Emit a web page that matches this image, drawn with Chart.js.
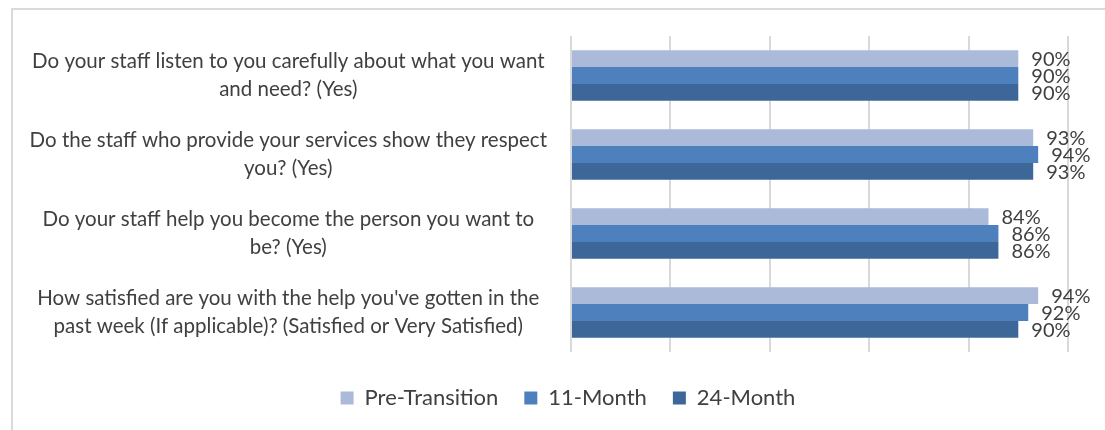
<!DOCTYPE html>
<html>
<head>
<meta charset="utf-8">
<script src="https://cdn.jsdelivr.net/npm/chart.js@4.4.1/dist/chart.umd.min.js"></script>
<style>
  html, body { margin: 0; padding: 0; background: #fff; }
  #wrap { position: relative; width: 1105px; height: 430px; }
  #frame {
    position: absolute; left: 11px; top: 8px; right: -5px; bottom: -5px;
    border-top: 2px solid #dadada; border-left: 2px solid #dadada;
  }
  canvas { position: absolute; left: 0; top: 0; }
</style>
</head>
<body>
<div id="wrap">
  <div id="frame"></div>
  <canvas id="chart" width="1105" height="430"></canvas>
</div>
<script>
// survey questions, one per row
const questions = [
  ["Do your staff listen to you carefully about what you want", "and need? (Yes)"],
  ["Do the staff who provide your services show they respect", "you? (Yes)"],
  ["Do your staff help you become the person you want to", "be? (Yes)"],
  ["How satisfied are you with the help you've gotten in the", "past week (If applicable)? (Satisfied or Very Satisfied)"],
];
const seriesNames = ["Pre-Transition", "11-Month", "24-Month"];
const preTransition = [90, 93, 84, 94];
const month11 = [90, 94, 86, 92];
const month24 = [90, 93, 86, 90];
const colors = ["#aabad8", "#4e80bd", "#3d6799"];

const textColor = "#404040";
const fontFamily = "Lato, 'Open Sans', sans-serif";

// percent labels at the end of each bar
const barLabels = {
  id: "barLabels",
  afterDatasetsDraw(chart) {
    const ctx = chart.ctx;
    ctx.save();
    ctx.font = "20px " + fontFamily;
    ctx.fillStyle = textColor;
    ctx.textAlign = "left";
    ctx.textBaseline = "middle";
    chart.data.datasets.forEach((ds, i) => {
      const meta = chart.getDatasetMeta(i);
      meta.data.forEach((bar, j) => {
        ctx.fillText(ds.data[j] + "%", bar.x + 13, bar.y + 1);
      });
    });
    ctx.restore();
  },
};

// legend in the original sits a little right of the canvas centre
const shiftLegend = {
  id: "shiftLegend",
  afterLayout(chart) {
    chart.legend.left += 24;
    chart.legend.right += 24;
  },
};

new Chart(document.getElementById("chart"), {
  type: "bar",
  data: {
    labels: questions,
    datasets: [
      { label: seriesNames[0], data: preTransition, backgroundColor: colors[0] },
      { label: seriesNames[1], data: month11, backgroundColor: colors[1] },
      { label: seriesNames[2], data: month24, backgroundColor: colors[2] },
    ],
  },
  options: {
    indexAxis: "y",
    responsive: false,
    animation: false,
    layout: { padding: { top: 36, left: 20, right: 37, bottom: 11 } },
    datasets: {
      bar: { categoryPercentage: 0.64, barPercentage: 1.0 },
    },
    scales: {
      x: {
        min: 0,
        max: 100,
        ticks: { display: false, stepSize: 20 },
        grid: { color: "#d9d9d9", lineWidth: 2, drawTicks: false },
        border: { display: false },
        afterFit(scale) {
          scale.height += 9;
        },
      },
      y: {
        grid: { display: false },
        border: { display: false },
        ticks: {
          crossAlign: "center",
          padding: 16,
          color: textColor,
          font: { family: fontFamily, size: 20.5, lineHeight: 1.37 },
        },
        afterFit(scale) {
          scale.width = 551;
          // labels sit inside their rows, no extra room above/below needed
          scale.paddingTop = 0;
          scale.paddingBottom = 0;
        },
      },
    },
    plugins: {
      legend: {
        position: "bottom",
        labels: {
          boxWidth: 13,
          boxHeight: 13,
          padding: 26,
          color: textColor,
          font: { family: fontFamily, size: 22 },
        },
      },
      tooltip: { enabled: false },
    },
  },
  plugins: [barLabels, shiftLegend],
});
</script>
</body>
</html>
